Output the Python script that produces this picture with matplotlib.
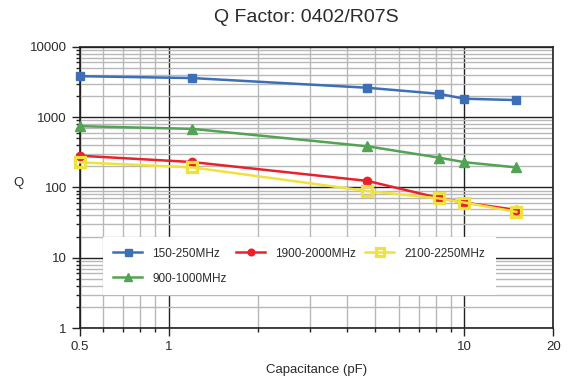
import numpy as np
import matplotlib.pyplot as plt
from matplotlib.ticker import FixedLocator, NullFormatter, FixedFormatter

plt.rcParams["font.family"] = ["Liberation Sans", "DejaVu Sans"]

cap_pf = [0.5, 1.2, 4.7, 8.2, 10, 15]
q_150_250 = [3830, 3600, 2620, 2150, 1830, 1750]
q_900_1000 = [745, 682, 385, 266, 229, 193]
q_1900_2000 = [283, 230, 124, 71, 61, 48]
q_2100_2250 = [228, 193, 89, 70, 61, 45]

x_ticks = [0.5, 1, 10, 20]
x_ticklabels = ["0.5", "1", "10", "20"]
y_ticks = [1, 10, 100, 1000, 10000]
y_ticklabels = ["1", "10", "100", "1000", "10000"]

blue = "#3d6fb6"
green = "#52a354"
red = "#e8222a"
yellow = "#f0e23c"
txt = "#2b2b2b"

fig = plt.figure(figsize=(5.68, 3.78), dpi=100)
ax = fig.add_axes([0.141, 0.132, 0.833, 0.744])
ax.set_xscale("log")
ax.set_yscale("log")
ax.set_xlim(0.5, 20)
ax.set_ylim(1, 10000)

# grid: grey minor lines, black decade lines
x_minor = [0.6, 0.7, 0.8, 0.9] + list(range(2, 10))
y_minor = [m * 10 ** d for d in range(0, 4) for m in range(2, 10)]
ax.xaxis.set_major_locator(FixedLocator(x_ticks))
ax.xaxis.set_major_formatter(FixedFormatter(x_ticklabels))
ax.xaxis.set_minor_locator(FixedLocator(x_minor))
ax.xaxis.set_minor_formatter(NullFormatter())
ax.yaxis.set_major_locator(FixedLocator(y_ticks))
ax.yaxis.set_major_formatter(FixedFormatter(y_ticklabels))
ax.yaxis.set_minor_locator(FixedLocator(y_minor))
ax.yaxis.set_minor_formatter(NullFormatter())
ax.grid(which="minor", color="#b8b8b8", lw=1.0, zorder=0)
ax.grid(which="major", color="#222222", lw=1.0, zorder=0)
ax.set_axisbelow(True)

ax.tick_params(which="major", direction="out", length=6, width=1, colors="#222222",
               labelsize=9.5, labelcolor=txt)
ax.tick_params(which="minor", direction="out", length=3, width=1, colors="#222222")
for s in ax.spines.values():
    s.set_color("#222222")
    s.set_linewidth(1.2)

l1, = ax.plot(cap_pf, q_150_250, color=blue, lw=1.8, marker="s", ms=6.3,
              label="150-250MHz", zorder=3, clip_on=False)
l2, = ax.plot(cap_pf, q_900_1000, color=green, lw=1.8, marker="^", ms=7,
              label="900-1000MHz", zorder=3, clip_on=False)
l3, = ax.plot(cap_pf, q_1900_2000, color=red, lw=1.8, marker="o", ms=6,
              label="1900-2000MHz", zorder=3, clip_on=False)
l4, = ax.plot(cap_pf, q_2100_2250, color=yellow, lw=1.8, marker="s", ms=6.5,
              mfc="none", mec=yellow, mew=2.3, label="2100-2250MHz", zorder=4,
              clip_on=False)

leg = ax.legend(handles=[l1, l2, l3, l4], ncol=3, loc="upper left",
                bbox_to_anchor=(0.048, 0.324),
                frameon=True, fancybox=False, edgecolor="none", framealpha=1,
                fontsize=8.5, handlelength=2.45, handletextpad=0.85,
                borderaxespad=0, borderpad=0.9, labelspacing=1.1,
                columnspacing=0.8, markerscale=0.8)
for t in leg.get_texts():
    t.set_color(txt)

ax.set_xlabel("Capacitance (pF)", fontsize=9.5, color=txt, labelpad=8)
fig.text(18 / 568, 1 - 183 / 378, "Q", fontsize=9.5, color=txt,
         ha="center", va="center")
fig.text(0.54, 0.955, "Q Factor: 0402/R07S", fontsize=14, color=txt,
         ha="center", va="center")

fig.savefig("out.png", dpi=100)
